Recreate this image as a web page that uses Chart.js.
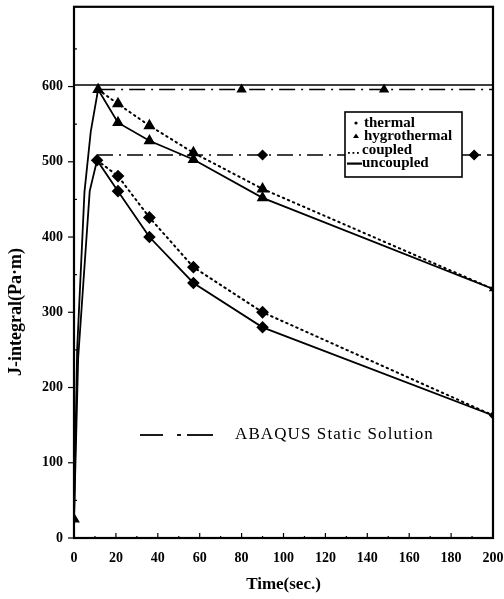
<!DOCTYPE html>
<html><head><meta charset="utf-8">
<script src="https://cdn.jsdelivr.net/npm/chart.js@4"></script>
<style>html,body{margin:0;padding:0;background:#fff}</style>
</head><body>
<canvas id="c" width="504" height="599"></canvas>
<script>
// ---- data ----
const xTicks = [0,20,40,60,80,100,120,140,160,180,200];
const yTicks = [0,100,200,300,400,500,600];

const hygroUncTime = [0, 1.5, 5, 8, 11.5, 21, 36, 57, 90, 200];
const hygroUncVal  = [25, 250, 460, 540, 596, 552, 528, 503, 452, 331];
const hygroCplTime = [11.5, 21, 36, 57, 90, 200];
const hygroCplVal  = [596, 577, 548, 512, 464, 331];

const thermUncTime = [0, 2, 7.5, 11, 21, 36, 57, 90, 200];
const thermUncVal  = [25, 240, 461, 502, 461, 400, 339, 280, 163];
const thermCplTime = [11, 21, 36, 57, 90, 200];
const thermCplVal  = [502, 481, 426, 360, 300, 163];

const frameLineTime = [0, 200];
const frameLineVal  = [602, 602];
const abaqusHygroTime = [12, 80, 148, 200];
const abaqusHygroVal  = [596, 596, 596, 596];
const abaqusThermTime = [11, 90, 191, 200];
const abaqusThermVal  = [509, 509, 509, 509];

const legendLabels = ['thermal', 'hygrothermal', 'coupled', 'uncoupled'];
const abaqusLabel = 'ABAQUS Static Solution';
const xTitle = 'Time(sec.)';
const yTitle = 'J-integral(Pa\u00b7m)';

function pts(t, v){ return t.map((x,i)=>({x:x, y:v[i]})); }

const SERIF = '"Liberation Serif","DejaVu Serif",serif';
const K = '#000';

const datasets = [
  {data: pts(frameLineTime, frameLineVal), borderColor:K, borderWidth:1.5, pointRadius:0},
  {data: pts(abaqusHygroTime, abaqusHygroVal), borderColor:K, borderWidth:1.5, borderDash:[16,6,2,6],
   pointStyle:'triangle', pointRadius:[0,4.5,4.5,0], backgroundColor:K, pointBorderColor:K},
  {data: pts(abaqusThermTime, abaqusThermVal), borderColor:K, borderWidth:1.5, borderDash:[16,6,2,6],
   pointStyle:'rectRot', pointRadius:[0,4.5,4.5,0], backgroundColor:K, pointBorderColor:K},
  {data: pts(hygroUncTime, hygroUncVal), borderColor:K, borderWidth:1.8, tension:0,
   pointStyle:'triangle', pointRadius:[5,0,0,0,5,5,5,5,5,3], backgroundColor:K, pointBorderColor:K},
  {data: pts(hygroCplTime, hygroCplVal), borderColor:K, borderWidth:2, borderDash:[1.5,4], borderCapStyle:'round',
   pointStyle:'triangle', pointRadius:[0,5,5,5,5,0], backgroundColor:K, pointBorderColor:K},
  {data: pts(thermUncTime, thermUncVal), borderColor:K, borderWidth:1.8,
   pointStyle:'rectRot', pointRadius:[0,0,0,5,5,5,5,5,3], backgroundColor:K, pointBorderColor:K},
  {data: pts(thermCplTime, thermCplVal), borderColor:K, borderWidth:2, borderDash:[1.5,4], borderCapStyle:'round',
   pointStyle:'rectRot', pointRadius:[0,5,5,5,5,0], backgroundColor:K, pointBorderColor:K},
];

const extras = {
  id:'extras',
  afterDatasetsDraw(chart){
    const {ctx, chartArea:a, scales:{x, y}} = chart;
    ctx.save();
    // frame
    ctx.strokeStyle = K; ctx.lineWidth = 2.2; ctx.setLineDash([]);
    ctx.strokeRect(a.left, a.top, a.right - a.left, a.bottom - a.top);
    // y ticks (major outward, minor inward)
    ctx.lineWidth = 1.2;
    yTicks.forEach(v=>{
      const py = y.getPixelForValue(v);
      ctx.beginPath(); ctx.moveTo(a.left - 6, py); ctx.lineTo(a.left, py); ctx.stroke();
      const pm = y.getPixelForValue(v + 50);
      if (v + 50 <= 650) { ctx.beginPath(); ctx.moveTo(a.left, pm); ctx.lineTo(a.left + 3, pm); ctx.stroke(); }
    });
    // x ticks inward
    xTicks.forEach(v=>{
      const px = x.getPixelForValue(v);
      ctx.beginPath(); ctx.moveTo(px, a.bottom); ctx.lineTo(px, a.bottom - 5); ctx.stroke();
      if (v < 200) {
        const pm = x.getPixelForValue(v + 10);
        ctx.beginPath(); ctx.moveTo(pm, a.bottom); ctx.lineTo(pm, a.bottom - 2); ctx.stroke();
      }
    });
    // y title
    ctx.fillStyle = K;
    ctx.save();
    ctx.translate(16, 312); ctx.rotate(-Math.PI/2);
    ctx.font = 'bold 18px ' + SERIF; ctx.textAlign = 'center'; ctx.textBaseline = 'middle';
    ctx.fillText(yTitle, 0, 0);
    ctx.restore();
    // legend box
    const bx = 345, by = 112, bw = 117, bh = 65;
    ctx.fillStyle = '#fff'; ctx.fillRect(bx, by, bw, bh);
    ctx.lineWidth = 1.6; ctx.strokeRect(bx, by, bw, bh);
    ctx.fillStyle = K;
    ctx.font = 'bold 15px ' + SERIF;
    ctx.textBaseline = 'middle'; ctx.textAlign = 'left';
    const rows = [123, 136, 150, 163];
    ctx.beginPath(); ctx.arc(356, rows[0], 1.6, 0, Math.PI*2); ctx.fill();
    ctx.beginPath(); ctx.moveTo(356, rows[1]-2.5); ctx.lineTo(359, rows[1]+2); ctx.lineTo(353, rows[1]+2); ctx.closePath(); ctx.fill();
    ctx.fillText(legendLabels[0], 364, rows[0]);
    ctx.fillText(legendLabels[1], 364, rows[1]);
    for (let k = 0; k < 3; k++) { ctx.fillRect(348 + k*4.5, rows[2]+2, 1.8, 1.8); }
    ctx.fillText(legendLabels[2], 362, rows[2]);
    ctx.fillRect(347, rows[3]-0.5, 15, 2.2);
    ctx.fillText(legendLabels[3], 362, rows[3]);
    // ABAQUS annotation
    const ay = 435;
    ctx.lineWidth = 1.8;
    ctx.beginPath(); ctx.moveTo(140, ay); ctx.lineTo(163, ay); ctx.stroke();
    ctx.beginPath(); ctx.moveTo(177, ay); ctx.lineTo(181, ay); ctx.stroke();
    ctx.beginPath(); ctx.moveTo(187, ay); ctx.lineTo(213, ay); ctx.stroke();
    ctx.font = '17px ' + SERIF;
    if ('letterSpacing' in ctx) ctx.letterSpacing = '1.1px';
    ctx.fillText(abaqusLabel, 235, ay);
    ctx.restore();
  }
};

new Chart(document.getElementById('c'), {
  type: 'line',
  data: {datasets},
  options: {
    responsive: false, animation: false,
    layout: {padding: {top: 5, right: 11, left: 0, bottom: 0}},
    plugins: {legend: {display: false}, tooltip: {enabled: false}},
    elements: {line: {fill: false}},
    scales: {
      x: {
        type: 'linear', min: 0, max: 200,
        afterBuildTicks: s => { s.ticks = xTicks.map(v => ({value: v})); },
        afterFit: s => { s.height = 61; s.paddingLeft = 0; s.paddingRight = 0; },
        grid: {display: false, drawTicks: false}, border: {display: false},
        ticks: {color: K, font: {family: SERIF, size: 14, weight: 'bold'}, padding: 12, maxRotation: 0, autoSkip: false},
        title: {display: true, text: xTitle, color: K, font: {family: SERIF, size: 17, weight: 'bold'}, padding: {top: 0, bottom: 4}}
      },
      y: {
        type: 'linear', min: 0, max: 706,
        afterBuildTicks: s => { s.ticks = yTicks.map(v => ({value: v})); },
        afterFit: s => { s.width = 74; s.paddingTop = 0; s.paddingBottom = 0; },
        grid: {display: false, drawTicks: false}, border: {display: false},
        ticks: {color: K, font: {family: SERIF, size: 14, weight: 'bold'}, padding: 11, autoSkip: false},
        title: {display: false}
      }
    }
  },
  plugins: [extras]
});
</script>
</body></html>
